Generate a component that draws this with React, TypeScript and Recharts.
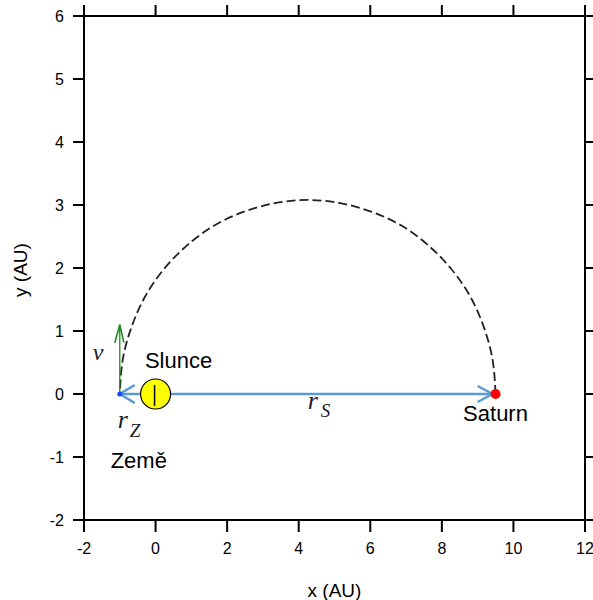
import React from 'react';
import { ComposedChart, XAxis, YAxis, Line, ReferenceLine, ReferenceDot } from 'recharts';

const xTicks = [-2, 0, 2, 4, 6, 8, 10, 12];
const yTicks = [-2, -1, 0, 1, 2, 3, 4, 5, 6];
const orbitX = [9.5, 9.42, 9.18, 8.8, 8.27, 7.62, 6.88, 6.05, 5.16, 4.25, 3.34, 2.45, 1.63, 0.88, 0.23, -0.3, -0.68, -0.92, -1.0];
const orbitY = [0, 0.535, 1.05, 1.54, 1.98, 2.36, 2.67, 2.89, 3.03, 3.08, 3.03, 2.89, 2.67, 2.36, 1.98, 1.54, 1.05, 0.535, 0];
const orbit = orbitX.map((x, i) => ({ x, y: orbitY[i] }));
const earth = { x: -1, y: 0 };
const sun = { x: 0, y: 0 };
const saturn = { x: 9.5, y: 0 };
const velocityTip = { x: -1, y: 1.1 };
const orbitCenter = { x: 4.25, y: 0 };

const SANS = '"Liberation Sans", Arial, sans-serif';
const SERIF = '"Liberation Serif", "Times New Roman", serif';
const BLUE = '#5B9BD5';
const GREEN = '#1E8A1E';
const INK = '#1a1a2e';

const axisLine = { stroke: '#000', strokeWidth: 2 };
const tickStyle = { fontFamily: SANS, fontSize: 16, fill: '#000' };

const LeftHead = (p: any) => (
  <polyline points={`${p.cx + 15},${p.cy - 9} ${p.cx},${p.cy} ${p.cx + 15},${p.cy + 9}`} fill="none" stroke={BLUE} strokeWidth={2.5} />
);
const RightHead = (p: any) => (
  <polyline points={`${p.cx - 18},${p.cy - 8} ${p.cx - 3},${p.cy} ${p.cx - 18},${p.cy + 8}`} fill="none" stroke={BLUE} strokeWidth={2.5} />
);
const UpHead = (p: any) => (
  <polyline points={`${p.cx - 5},${p.cy + 18} ${p.cx},${p.cy} ${p.cx + 4},${p.cy + 18}`} fill="none" stroke={GREEN} strokeWidth={1.6} />
);
const SunShape = (p: any) => (
  <g>
    <circle cx={p.cx} cy={p.cy} r={15} fill="#FFFF00" stroke="#000" strokeWidth={1.2} />
    <line x1={p.cx - 1} y1={p.cy - 9} x2={p.cx - 1} y2={p.cy + 12} stroke="#000" strokeWidth={1.5} />
  </g>
);
const SaturnShape = (p: any) => <circle cx={p.cx} cy={p.cy} r={5} fill="#FF0000" />;
const EarthShape = (p: any) => <circle cx={p.cx} cy={p.cy} r={2.5} fill="#2040FF" />;

const EarthLabels = (p: any) => (
  <g>
    <text x={p.cx - 27} y={p.cy - 34} fontFamily={SERIF} fontStyle="italic" fontSize={24} fill={INK}>v</text>
    <text x={p.cx - 2} y={p.cy + 34} fontFamily={SERIF} fontStyle="italic" fontSize={26} fill={INK}>
      r
      <tspan x={p.cx + 10} y={p.cy + 43} fontSize={19}>Z</tspan>
    </text>
    <text x={p.cx + 19} y={p.cy + 74} textAnchor="middle" fontFamily={SANS} fontSize={22} fill="#000">Země</text>
  </g>
);
const SunLabel = (p: any) => (
  <text x={p.cx + 23} y={p.cy - 26} textAnchor="middle" fontFamily={SANS} fontSize={22} fill="#000">Slunce</text>
);
const SaturnLabel = (p: any) => (
  <text x={p.cx} y={p.cy + 27} textAnchor="middle" fontFamily={SANS} fontSize={22} fill="#000">Saturn</text>
);
const RsLabel = (p: any) => (
  <text x={p.cx} y={p.cy + 15} fontFamily={SERIF} fontStyle="italic" fontSize={26} fill={INK}>
    r
    <tspan x={p.cx + 13} y={p.cy + 23} fontSize={19}>S</tspan>
  </text>
);

const XLabel = (p: any) => {
  const vb = p.viewBox;
  return (
    <text x={vb.x + vb.width / 2} y={597} textAnchor="middle" fontFamily={SANS} fontSize={19} fill="#000">x (AU)</text>
  );
};
const YLabel = (p: any) => {
  const vb = p.viewBox;
  const cy = vb.y + vb.height / 2 + 2;
  return (
    <text x={27} y={cy} transform={`rotate(-90 27 ${cy})`} textAnchor="middle" fontFamily={SANS} fontSize={19} fill="#000">y (AU)</text>
  );
};

export default function App() {
  return (
    <div style={{ position: 'absolute', left: 0, top: 0, background: '#fff' }}>
      <ComposedChart width={593} height={600} data={orbit} margin={{ top: 0, right: 0, bottom: 0, left: 0 }}>
        <XAxis
          dataKey="x" type="number" domain={[-2, 12]} ticks={xTicks} allowDataOverflow
          height={80} tickSize={12} tickMargin={11} axisLine={axisLine} tickLine={axisLine} tick={tickStyle}
          label={<XLabel />}
        />
        <XAxis
          xAxisId="top" orientation="top" dataKey="x" type="number" domain={[-2, 12]} ticks={xTicks} allowDataOverflow
          height={16} tickSize={11} axisLine={axisLine} tickLine={axisLine} tickFormatter={() => ''}
        />
        <YAxis
          type="number" domain={[-2, 6]} ticks={yTicks} allowDataOverflow
          width={84} tickSize={11} tickMargin={9} axisLine={axisLine} tickLine={axisLine} tick={tickStyle}
          label={<YLabel />}
        />
        <YAxis
          yAxisId="right" orientation="right" type="number" domain={[-2, 6]} ticks={yTicks} allowDataOverflow
          width={8} tickSize={11} axisLine={axisLine} tickLine={axisLine} tickFormatter={() => ''}
        />
        <Line
          data={orbit} dataKey="y" type="natural" stroke="#222" strokeWidth={1.8} strokeDasharray="9 4"
          dot={false} activeDot={false} isAnimationActive={false}
        />
        <ReferenceLine segment={[earth, saturn]} stroke={BLUE} strokeWidth={2.5} />
        <ReferenceLine segment={[earth, velocityTip]} stroke={GREEN} strokeWidth={1.3} />
        <ReferenceDot x={earth.x} y={earth.y} r={0} shape={LeftHead} />
        <ReferenceDot x={saturn.x} y={saturn.y} r={0} shape={RightHead} />
        <ReferenceDot x={velocityTip.x} y={velocityTip.y} r={0} shape={UpHead} />
        <ReferenceDot x={sun.x} y={sun.y} r={15} shape={SunShape} />
        <ReferenceDot x={saturn.x} y={saturn.y} r={5} shape={SaturnShape} />
        <ReferenceDot x={earth.x} y={earth.y} r={2} shape={EarthShape} />
        <ReferenceDot x={earth.x} y={earth.y} r={0} shape={EarthLabels} />
        <ReferenceDot x={sun.x} y={sun.y} r={0} shape={SunLabel} />
        <ReferenceDot x={saturn.x} y={saturn.y} r={0} shape={SaturnLabel} />
        <ReferenceDot x={orbitCenter.x} y={orbitCenter.y} r={0} shape={RsLabel} />
      </ComposedChart>
    </div>
  );
}
